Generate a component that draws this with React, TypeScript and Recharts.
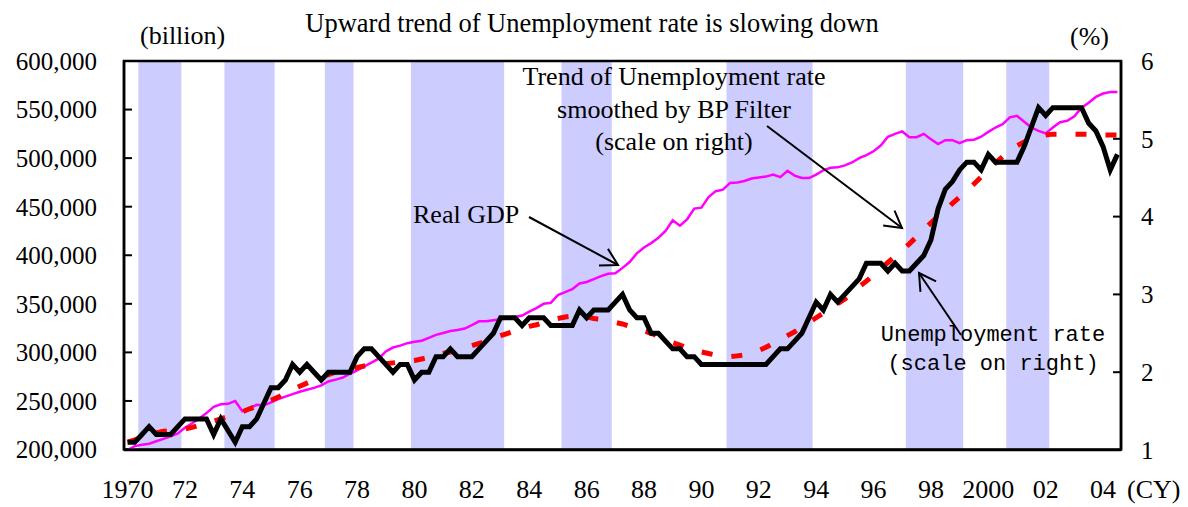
import { ComposedChart, Line, XAxis, YAxis, ReferenceArea } from 'recharts';

// 1970Q1 .. 2004Q3
const quarters: string[] = [];
for (let y = 1970; y <= 2004; y++) {
  for (let q = 1; q <= 4; q++) {
    if (y === 2004 && q === 4) break;
    quarters.push(`${y}Q${q}`);
  }
}

const tickLabels = ['1970', '72', '74', '76', '78', '80', '82', '84', '86', '88', '90', '92', '94', '96', '98', '2000', '02', '04'];
const tickQuarters = ['1970Q1', '1972Q1', '1974Q1', '1976Q1', '1978Q1', '1980Q1', '1982Q1', '1984Q1', '1986Q1', '1988Q1', '1990Q1', '1992Q1', '1994Q1', '1996Q1', '1998Q1', '2000Q1', '2002Q1', '2004Q1'];

const recessions = [
  ['1970Q3', '1971Q4'],
  ['1973Q3', '1975Q1'],
  ['1977Q1', '1977Q4'],
  ['1980Q1', '1983Q1'],
  ['1985Q2', '1986Q4'],
  ['1991Q1', '1993Q4'],
  ['1997Q2', '1999Q1'],
  ['2000Q4', '2002Q1'],
];

// real GDP, billion yen (left scale)
const gdp = [
  199500, 203500, 205000, 206000, 208500, 211000, 213500, 216500,
  222500, 227000, 232000, 237500, 244000, 246500, 247000, 250000,
  239500, 242500, 246000, 245500, 248500, 252000, 254500, 257000,
  259500, 261500, 263500, 266000, 270000, 272000, 274000, 278000,
  281500, 285500, 289500, 293500, 301000, 305000, 307000, 309500,
  311000, 312000, 315000, 318000, 320000, 322000, 323000, 324500,
  328000, 332000, 332000, 333000, 334000, 335000, 336500, 338000,
  342000, 345500, 350000, 351000, 359000, 362000, 365000, 371000,
  372500, 375500, 378500, 381000, 381500, 387000, 393000, 402000,
  408000, 412500, 418000, 425000, 436000, 430500, 437000, 448000,
  449000, 460000, 466000, 467500, 474500, 475000, 476500, 479000,
  480000, 481000, 483000, 480500, 487000, 482000, 479500, 479500,
  483000, 487500, 490000, 490500, 492500, 495500, 500000, 503000,
  507000, 513000, 522000, 525000, 527500, 521500, 521500, 525000,
  519500, 514500, 518500, 518500, 515500, 518500, 519000, 522000,
  527000, 531500, 535000, 542000, 543500, 537500, 531500, 528000,
  525500, 531500, 537000, 538500, 543000, 552000, 557000, 563000,
  566500, 568000, 568000,
];

// unemployment rate, % (right scale)
const rate = [
  1.1, 1.1, 1.2, 1.3, 1.2, 1.2, 1.2, 1.3,
  1.4, 1.4, 1.4, 1.4, 1.2, 1.4, 1.25, 1.1,
  1.3, 1.3, 1.4, 1.6, 1.8, 1.8, 1.9, 2.1,
  2.0, 2.1, 2.0, 1.9, 2.0, 2.0, 2.0, 2.0,
  2.2, 2.3, 2.3, 2.2, 2.1, 2.0, 2.1, 2.1,
  1.9, 2.0, 2.0, 2.2, 2.2, 2.3, 2.2, 2.2,
  2.2, 2.3, 2.4, 2.5, 2.7, 2.7, 2.7, 2.6,
  2.7, 2.7, 2.7, 2.6, 2.6, 2.6, 2.6, 2.8,
  2.7, 2.8, 2.8, 2.8, 2.9, 3.0, 2.8, 2.7,
  2.7, 2.5, 2.5, 2.4, 2.3, 2.3, 2.2, 2.2,
  2.1, 2.1, 2.1, 2.1, 2.1, 2.1, 2.1, 2.1, 2.1, 2.1,
  2.2, 2.3, 2.3, 2.4, 2.5, 2.7, 2.9, 2.8,
  3.0, 2.9, 3.0, 3.1, 3.2, 3.4, 3.4, 3.4,
  3.3, 3.4, 3.3, 3.3, 3.4, 3.5, 3.7, 4.1,
  4.35, 4.45, 4.6, 4.7, 4.7, 4.6, 4.8, 4.7,
  4.7, 4.7, 4.7, 4.9, 5.15, 5.4, 5.3, 5.4,
  5.4, 5.4, 5.4, 5.4, 5.2, 5.1, 4.9, 4.6, 4.8,
];

// BP filter trend of unemployment rate, % (right scale)
const trend = [
  1.1, 1.13, 1.16, 1.19, 1.22, 1.24, 1.25, 1.26, 1.27, 1.29,
  1.32, 1.35, 1.37, 1.4, 1.43, 1.46, 1.49, 1.53, 1.56, 1.6,
  1.64, 1.68, 1.73, 1.78, 1.82, 1.86, 1.9, 1.94, 1.97, 2.0,
  2.03, 2.05, 2.06, 2.08, 2.09, 2.1, 2.11, 2.12, 2.13, 2.14,
  2.15, 2.17, 2.19, 2.21, 2.24, 2.26, 2.29, 2.31, 2.34, 2.37,
  2.4, 2.44, 2.47, 2.5, 2.53, 2.56, 2.59, 2.61, 2.64, 2.67,
  2.69, 2.71, 2.72, 2.72, 2.71, 2.69, 2.68, 2.66, 2.64, 2.62,
  2.59, 2.56, 2.53, 2.5, 2.46, 2.42, 2.38, 2.35, 2.31, 2.28,
  2.26, 2.24, 2.22, 2.21, 2.2, 2.21, 2.22, 2.25, 2.28, 2.32,
  2.37, 2.42, 2.47, 2.52, 2.58, 2.64, 2.7, 2.76, 2.82, 2.88,
  2.94, 3.02, 3.1, 3.17, 3.25, 3.33, 3.41, 3.49, 3.57, 3.65,
  3.74, 3.83, 3.92, 4.0, 4.08, 4.17, 4.25, 4.33, 4.42, 4.51,
  4.6, 4.69, 4.77, 4.84, 4.91, 4.96, 5.0, 5.03, 5.05, 5.06,
  5.06, 5.06, 5.06, 5.06, 5.06, 5.06, 5.05, 5.05, 5.05,
];

const gdpTicks = [200000, 250000, 300000, 350000, 400000, 450000, 500000, 550000, 600000];
const rateTicks = [1, 2, 3, 4, 5, 6];

const data = quarters.map((q, i) => ({ idx: i, q, gdp: gdp[i], rate: rate[i], trend: trend[i] }));
const tickIdx = tickQuarters.map((q) => quarters.indexOf(q));

const W = 1188;
const H = 507;
const serif = '"Liberation Serif", "Times New Roman", serif';
const mono = '"Liberation Mono", "DejaVu Sans Mono", monospace';

function Arrow({ x1, y1, x2, y2 }: { x1: number; y1: number; x2: number; y2: number }) {
  const ang = Math.atan2(y2 - y1, x2 - x1) + Math.PI;
  const len = 19;
  const s = 0.52;
  const w1 = [x2 + len * Math.cos(ang - s), y2 + len * Math.sin(ang - s)];
  const w2 = [x2 + len * Math.cos(ang + s), y2 + len * Math.sin(ang + s)];
  return (
    <g stroke='#000' strokeWidth={2} fill='none'>
      <line x1={x1} y1={y1} x2={x2} y2={y2} />
      <polyline points={`${w1[0]},${w1[1]} ${x2},${y2} ${w2[0]},${w2[1]}`} />
    </g>
  );
}

export default function App() {
  const tickStyle = { fill: '#000', fontSize: 25, fontFamily: serif };
  return (
    <div style={{ position: 'absolute', left: 0, top: 0, width: W, height: H, background: '#fff' }}>
      <ComposedChart width={W} height={H} data={data} margin={{ top: 61, right: 0, bottom: 0, left: 0 }}>
        {recessions.map(([a, b]) => (
          <ReferenceArea
            key={a}
            yAxisId='left'
            x1={quarters.indexOf(a) - 0.5}
            x2={quarters.indexOf(b) + 0.5}
            fill='#CCCCFF'
            fillOpacity={1}
            stroke='none'
          />
        ))}
        <XAxis
          dataKey='idx'
          type='number'
          domain={[-0.5, quarters.length - 0.5]}
          ticks={tickIdx}
          interval={0}
          tickFormatter={(v) => tickLabels[tickIdx.indexOf(v)]}
          tickLine={false}
          tickSize={0}
          tickMargin={30}
          height={57}
          axisLine={{ stroke: '#000', strokeWidth: 2.5 }}
          tick={{ ...tickStyle, fontSize: 26 }}
        />
        <YAxis
          yAxisId='left'
          domain={[200000, 600000]}
          ticks={gdpTicks}
          interval={0}
          width={124}
          tickSize={-8}
          tickMargin={35}
          tickFormatter={(v) => v.toLocaleString('en-US')}
          axisLine={{ stroke: '#000', strokeWidth: 2.5 }}
          tickLine={{ stroke: '#000', strokeWidth: 2 }}
          tick={tickStyle}
        />
        <YAxis
          yAxisId='right'
          orientation='right'
          domain={[1, 6]}
          ticks={rateTicks}
          interval={0}
          width={67}
          tickSize={-8}
          tickMargin={28}
          axisLine={{ stroke: '#000', strokeWidth: 2.5 }}
          tickLine={{ stroke: '#000', strokeWidth: 2 }}
          tick={tickStyle}
        />
        <Line yAxisId='left' dataKey='gdp' type='linear' stroke='#FF00FF' strokeWidth={2.5} dot={false} isAnimationActive={false} />
        <Line yAxisId='right' dataKey='trend' type='linear' stroke='#FF0000' strokeWidth={5} strokeDasharray='11 19' dot={false} isAnimationActive={false} />
        <Line yAxisId='right' dataKey='rate' type='linear' stroke='#000' strokeWidth={5} dot={false} isAnimationActive={false} />
        <ReferenceArea
          yAxisId='left'
          x1={-0.5}
          x2={quarters.length - 0.5}
          y1={200000}
          y2={600000}
          fill='none'
          stroke='#000'
          strokeWidth={2.5}
        />
      </ComposedChart>
      <svg width={W} height={H} style={{ position: 'absolute', left: 0, top: 0, pointerEvents: 'none' }}>
        <g fontFamily={serif} fontSize={26} fill='#000'>
          <text x={592} y={32} textAnchor='middle' fontSize={26.5}>Upward trend of Unemployment rate is slowing down</text>
          <text x={140} y={44}>(billion)</text>
          <text x={1070} y={45}>(%)</text>
          <text x={1127} y={498}>(CY)</text>
          <text x={413} y={223}>Real GDP</text>
          <text x={674} y={85} textAnchor='middle'>Trend of Unemployment rate</text>
          <text x={674} y={118} textAnchor='middle'>smoothed by BP Filter</text>
          <text x={674} y={150} textAnchor='middle'>(scale on right)</text>
        </g>
        <g fontFamily={mono} fontSize={22} fill='#000'>
          <text x={993} y={341} textAnchor='middle'>Unemployment rate</text>
          <text x={993} y={370} textAnchor='middle'>(scale on right)</text>
        </g>
        <Arrow x1={529} y1={217} x2={618} y2={265} />
        <Arrow x1={767} y1={126} x2={902} y2={228} />
        <Arrow x1={961} y1={335} x2={919} y2={273} />
      </svg>
    </div>
  );
}
